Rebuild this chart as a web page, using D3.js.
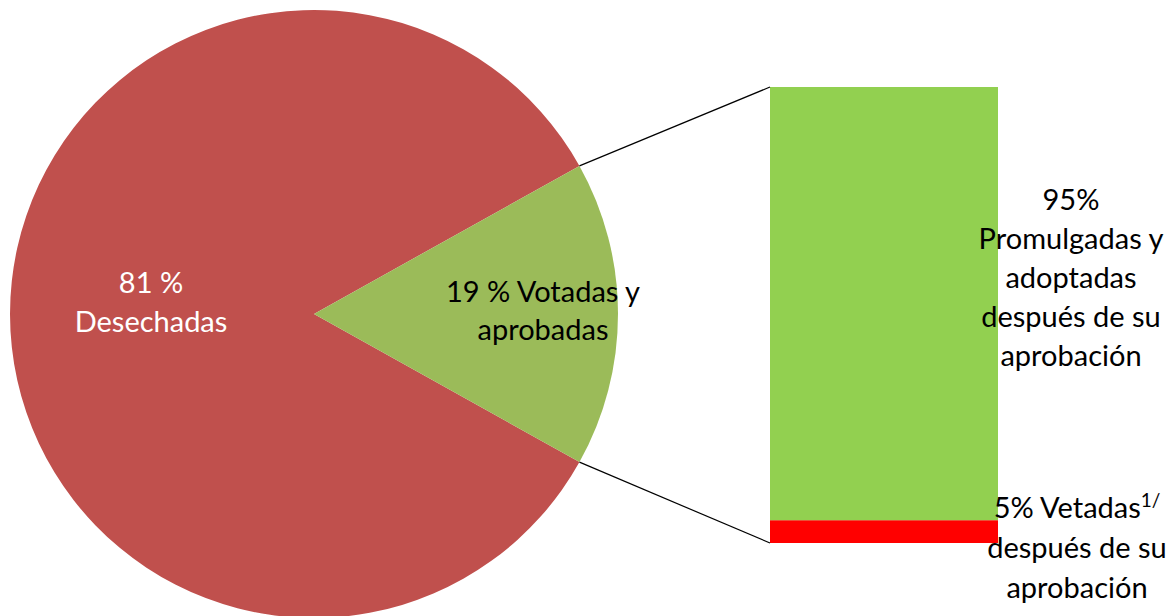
<!DOCTYPE html>
<html><head><meta charset="utf-8">
<script src="https://cdn.jsdelivr.net/npm/d3@7"></script>
<style>html,body{margin:0;padding:0;background:#fff;}svg{display:block;}</style>
</head><body>
<script>
// Data
const pieCategories = ["Desechadas", "Votadas y aprobadas"];
const pieShares = [83.8, 16.2];            // slice sizes as drawn in the picture
const pieLabelPct = ["81 %", "19 %"];       // label text as printed
const pieColors = ["#C0504D", "#9BBB59"];
const barCategories = ["Vetadas", "Promulgadas y adoptadas"];
const barValues = [5, 95];
const barColors = ["#FF0000", "#92D050"];

const W = 1176, H = 616;
const svg = d3.select("body").append("svg").attr("width", W).attr("height", H);
const FONT = "Lato, 'Open Sans', sans-serif";

// Pie
const cx = 314, cy = 314, r = 304;
const total = d3.sum(pieShares);
const greenHalf = Math.PI * pieShares[1] / total;
const pie = d3.pie().sort(null).value(d => d)
  .startAngle(Math.PI / 2 + greenHalf).endAngle(Math.PI / 2 + greenHalf + 2 * Math.PI);
const arcs = pie(pieShares);
const arc = d3.arc().innerRadius(0).outerRadius(r);
const pg = svg.append("g").attr("transform", `translate(${cx},${cy})`);
pg.selectAll("path").data(arcs).join("path").attr("d", arc).attr("fill", (d, i) => pieColors[i]);

// Bar (stacked)
const bx0 = 770, bx1 = 998;
const y = d3.scaleLinear().domain([0, d3.sum(barValues)]).range([543, 87]);
let acc = 0;
const stacks = barValues.map(v => { const s = {y0: acc, y1: acc + v}; acc += v; return s; });
svg.selectAll("rect.bar").data(stacks).join("rect").attr("class", "bar")
  .attr("x", bx0).attr("width", bx1 - bx0)
  .attr("y", d => y(d.y1)).attr("height", d => y(d.y0) - y(d.y1))
  .attr("fill", (d, i) => barColors[i]);

// Connector lines from green slice edges to bar corners
const ga = arcs[1];
const pt = a => [cx + r * Math.sin(a), cy - r * Math.cos(a)];
const pTop = pt(ga.startAngle), pBot = pt(ga.endAngle);
svg.append("line").attr("x1", pTop[0]).attr("y1", pTop[1]).attr("x2", bx0).attr("y2", y(d3.sum(barValues)))
  .attr("stroke", "#000").attr("stroke-width", 1.2);
svg.append("line").attr("x1", pBot[0]).attr("y1", pBot[1]).attr("x2", bx0).attr("y2", y(0))
  .attr("stroke", "#000").attr("stroke-width", 1.2);

// Labels
const fs = 29;
function lines(x, ys, texts, color) {
  texts.forEach((t, i) => {
    svg.append("text").attr("x", x).attr("y", ys[i]).attr("text-anchor", "middle")
      .attr("font-family", FONT).attr("font-size", fs).attr("fill", color).text(t);
  });
}
lines(151, [293, 332], [pieLabelPct[0], pieCategories[0]], "#fff");
lines(543, [302, 340], [pieLabelPct[1] + " Votadas y", "aprobadas"], "#000");
lines(1071, [210, 249, 288, 327, 366], ["95%", "Promulgadas y", "adoptadas", "después de su", "aprobación"], "#000");
const t5 = svg.append("text").attr("x", 1077).attr("y", 518).attr("text-anchor", "middle")
  .attr("font-family", FONT).attr("font-size", fs).attr("fill", "#000");
t5.append("tspan").text(barValues[0] + "% " + barCategories[0]);
t5.append("tspan").attr("dy", -11).attr("font-size", 19).text("1/");
lines(1077, [558, 598], ["después de su", "aprobación"], "#000");
</script>
</body></html>
